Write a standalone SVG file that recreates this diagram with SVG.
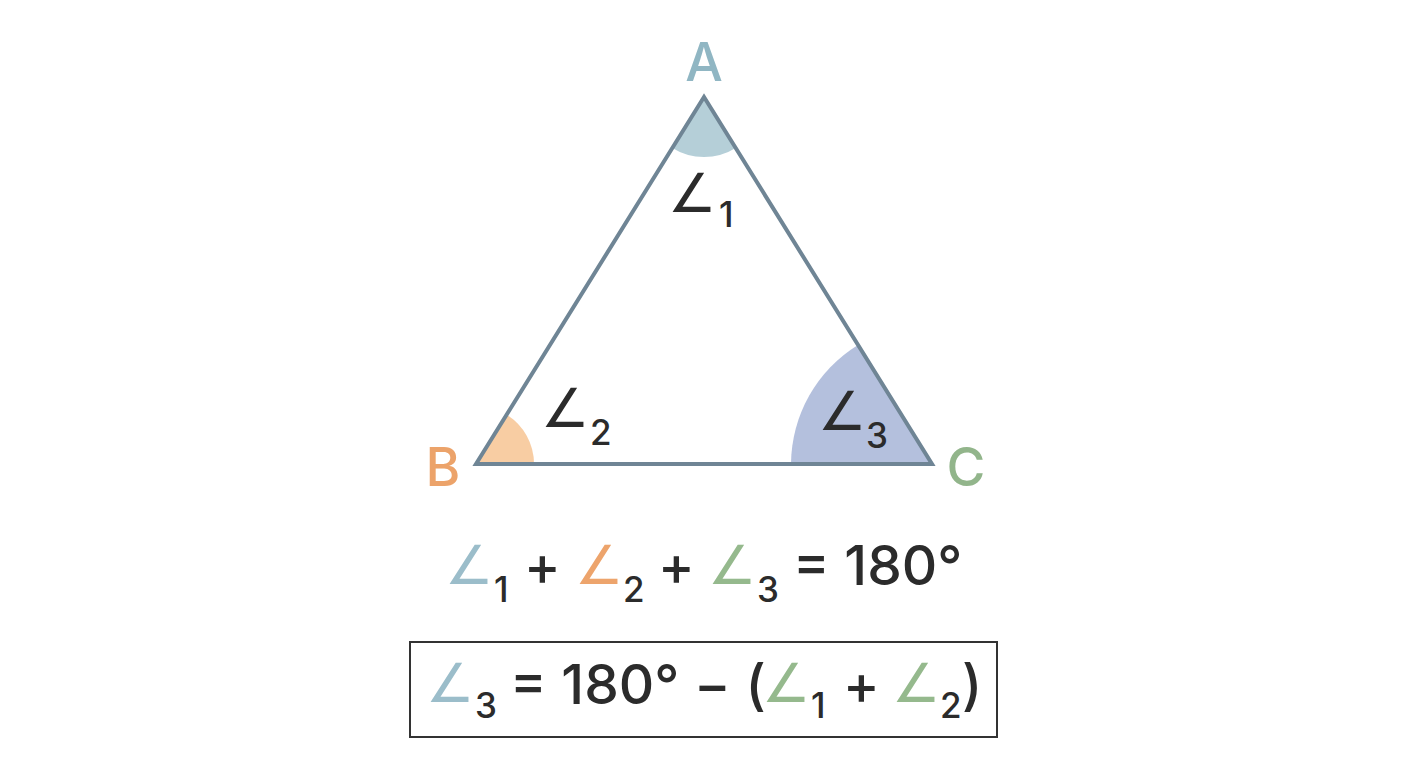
<svg xmlns="http://www.w3.org/2000/svg" width="1408" height="768" viewBox="0 0 1408 768">
<style>
.ang{font-family:"DejaVu Sans",sans-serif;font-size:54px;}
.t{font-family:"Inter","Noto Sans","DejaVu Sans",sans-serif;fill:#2b2b2b;font-weight:500;}
.sub{font-family:"Inter","Noto Sans",sans-serif;font-size:35px;fill:#2b2b2b;font-weight:500;}
.big{font-size:55px;}
.lbl{font-family:"Inter","Noto Sans",sans-serif;font-size:53px;text-anchor:middle;font-weight:500;}
.dk{fill:#2b2b2b;}
.cb{fill:#9bbdca;}
.co{fill:#eda46c;}
.cg{fill:#95b98d;}
</style>
<rect width="1408" height="768" fill="#ffffff"/>
<g id="angle-fills">
<path d="M704,97 L672.3,148 A60,60 0 0 0 735.7,148 Z" fill="#b5cfd8"/>
<path d="M476,464 L506.6,414.7 A58,58 0 0 1 534,464 Z" fill="#f8cda3"/>
<path d="M932,464 L858,345 A141,141 0 0 0 791,464 Z" fill="#b4c0dd"/>
</g>
<g id="triangle">
<polygon points="704,97 476,464 932,464" fill="none" stroke="#6f8595" stroke-width="4" stroke-linejoin="miter"/>
</g>
<g id="vertex-labels">
<text class="lbl" x="704" y="81" fill="#90b6c3">A</text>
<text class="lbl" x="443" y="486" fill="#eca36a">B</text>
<text class="lbl" x="966" y="486" fill="#92b58b">C</text>
</g>
<g id="angle-labels">
<text class="ang dk" x="668" y="212">∠</text><text class="sub" x="719" y="227">1</text>
<text class="ang dk" x="541" y="427">∠</text><text class="sub" x="590" y="445">2</text>
<text class="ang dk" x="818" y="430">∠</text><text class="sub" x="866" y="448">3</text>
</g>
<g id="equation-sum">
<text class="ang cb" x="445" y="584">∠</text><text class="sub" x="494" y="602">1</text>
<text class="t big" x="524" y="585">+</text>
<text class="ang co" x="575" y="584">∠</text><text class="sub" x="623" y="602">2</text>
<text class="t big" x="658" y="585">+</text>
<text class="ang cg" x="708" y="584">∠</text><text class="sub" x="757" y="602">3</text>
<text class="t big" x="793" y="585">= 180°</text>
</g>
<g id="equation-boxed">
<rect x="410" y="642" width="587" height="95" fill="none" stroke="#333333" stroke-width="2"/>
<text class="ang cb" x="426" y="702">∠</text><text class="sub" x="475" y="718">3</text>
<text class="t big" x="510" y="704">= 180° − (</text>
<text class="ang cg" x="762" y="702">∠</text><text class="sub" x="811" y="718">1</text>
<text class="t big" x="843" y="704">+</text>
<text class="ang cg" x="892" y="702">∠</text><text class="sub" x="940" y="718">2</text>
<text class="t big" x="962" y="704">)</text>
</g>
</svg>
